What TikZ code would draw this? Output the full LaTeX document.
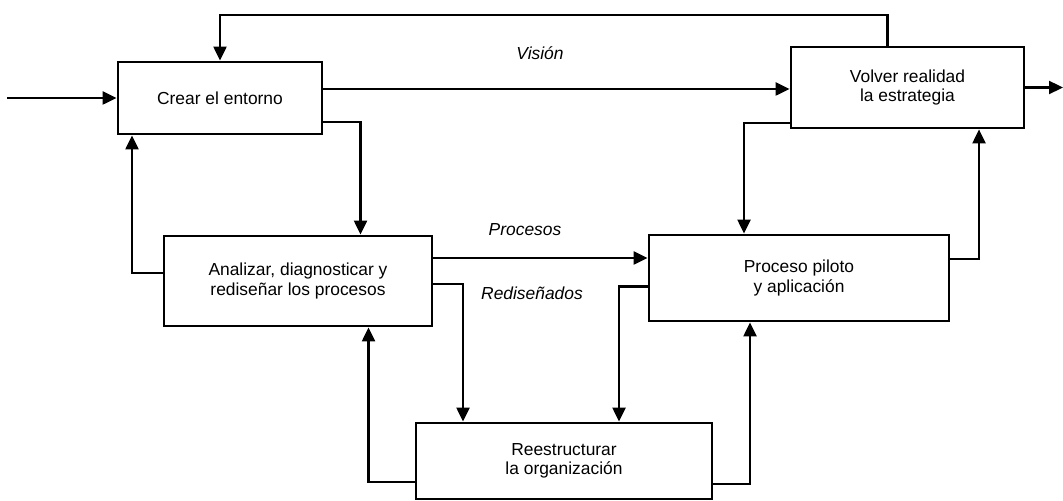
\documentclass[tikz,border=0pt]{standalone}
\usepackage{fontspec}
\setmainfont{Liberation Sans}
\usepackage{tikz}
\usetikzlibrary{arrows.meta,positioning}

\begin{document}
\begin{tikzpicture}[
  x=0.5pt, y=-0.5pt,
  box/.style={draw, line width=1.4pt, align=center, font=\fontsize{8.7}{9.6}\selectfont},
  lbl/.style={font=\fontsize{8.7}{9.6}\selectfont\itshape},
  arr/.style={-{Triangle[length=7pt, width=6.5pt]}, line width=1.1pt}
]
  \useasboundingbox (0,0) rectangle (1063,501);

  \node[box, minimum width=102pt, minimum height=36pt] (entorno) at (220,98) {Crear el entorno};
  \node[box, minimum width=116.5pt, minimum height=40.5pt] (estrategia) at (907.5,87.5) {Volver realidad\\la estrategia};
  \node[box, minimum width=134pt, minimum height=45pt] (analizar) at (298,281) {Analizar, diagnosticar y\\rediseñar los procesos};
  \node[box, minimum width=150pt, minimum height=43pt] (piloto) at (799,278) {Proceso piloto\\y aplicación};
  \node[box, minimum width=148pt, minimum height=38pt] (reestructurar) at (564,461) {Reestructurar\\la organización};

  \node[lbl] (vision) at (540,53) {Visión};
  \node[lbl] (procesos) at (525,230) {Procesos};
  \node[lbl] (redisenados) at (532,293) {Rediseñados};

  \coordinate (entrada) at (7,98);
  \coordinate (salida) at (1063,87.5);
  \coordinate (arriba) at (0,15);

  \draw[arr] (entrada) -- (entorno.west);
  \draw[arr] ([xshift=-10pt]estrategia.north) -- ([xshift=-10pt]estrategia.north |- arriba) -| (entorno.north);
  \draw[arr] ([yshift=4.5pt]entorno.east) -- ([yshift=4.5pt]entorno.east -| estrategia.west);
  \draw[arr] ([yshift=6.75pt]entorno.south east) -| ([xshift=31.25pt]analizar.north);
  \draw[arr] ([yshift=4pt]analizar.west) -| ([xshift=-44pt]entorno.south);
  \draw[arr] ([yshift=11.5pt]analizar.east) -- ([yshift=11.5pt]analizar.east -| piloto.west);
  \draw[arr] ([yshift=-1.5pt]analizar.east) -| ([xshift=-50.5pt]reestructurar.north);
  \draw[arr] ([yshift=-10.5pt]reestructurar.west) -| ([xshift=35.25pt]analizar.south);
  \draw[arr] ([yshift=-4.25pt]piloto.west) -| ([xshift=27.5pt]reestructurar.north);
  \draw[arr] ([yshift=-11.5pt]reestructurar.east) -| ([xshift=-24.5pt]piloto.south);
  \draw[arr] ([yshift=-17.75pt]estrategia.west) -| ([xshift=-27.5pt]piloto.north);
  \draw[arr] ([yshift=9.5pt]piloto.east) -| ([xshift=35.75pt]estrategia.south);
  \draw[arr] (estrategia.east) -- (salida);
\end{tikzpicture}
\end{document}
